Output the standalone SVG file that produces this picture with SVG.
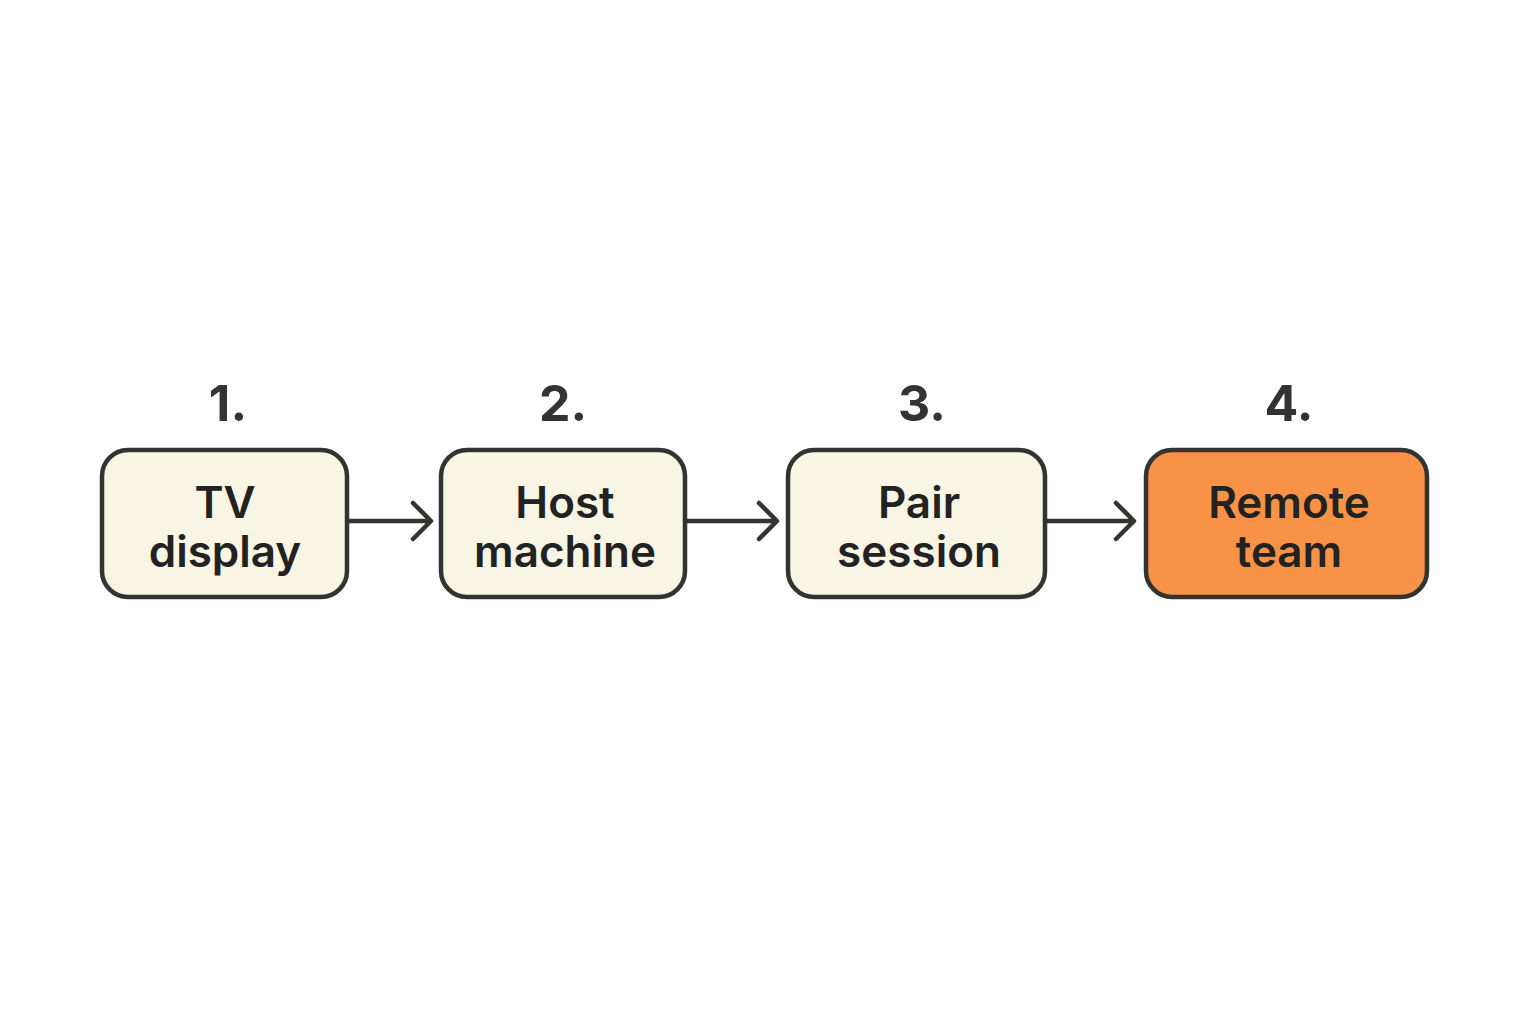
<svg xmlns="http://www.w3.org/2000/svg" width="1536" height="1024" viewBox="0 0 1536 1024">
<defs>
<style>
.box{fill:#f8f5e4;stroke:#333330;stroke-width:4.5}
.hl{fill:#f79247}
.lbl{font-family:Inter,"Liberation Sans",sans-serif;font-size:44px;font-weight:600;fill:#222;text-anchor:middle}
.num{font-family:Inter,"Liberation Sans",sans-serif;font-size:50px;font-weight:700;fill:#333;text-anchor:middle}
.conn{fill:none;stroke:#333330;stroke-width:4.5;stroke-linecap:round;stroke-linejoin:round}
</style>
</defs>
<rect width="1536" height="1024" fill="#ffffff"/>
<g id="node1">
<text class="num" x="228" y="421">1.</text>
<rect class="box" x="102" y="450" width="245" height="147" rx="26"/>
<text class="lbl" x="225" y="518">TV</text>
<text class="lbl" x="225" y="567">display</text>
</g>
<g id="node2">
<text class="num" x="563" y="421">2.</text>
<rect class="box" x="441" y="450" width="244" height="147" rx="26"/>
<text class="lbl" x="565" y="518">Host</text>
<text class="lbl" x="565" y="567">machine</text>
</g>
<g id="node3">
<text class="num" x="922" y="421">3.</text>
<rect class="box" x="788" y="450" width="257" height="147" rx="26"/>
<text class="lbl" x="919" y="518">Pair</text>
<text class="lbl" x="919" y="567">session</text>
</g>
<g id="node4">
<text class="num" x="1289" y="421">4.</text>
<rect class="box hl" x="1146" y="450" width="281" height="147" rx="26"/>
<text class="lbl" x="1289" y="518">Remote</text>
<text class="lbl" x="1289" y="567">team</text>
</g>
<g id="connectors">
<path class="conn" d="M349 521 H430 M413 503 L431 521 L413 539"/>
<path class="conn" d="M687 521 H776 M759 503 L777 521 L759 539"/>
<path class="conn" d="M1047 521 H1133 M1116 503 L1134 521 L1116 539"/>
</g>
</svg>
